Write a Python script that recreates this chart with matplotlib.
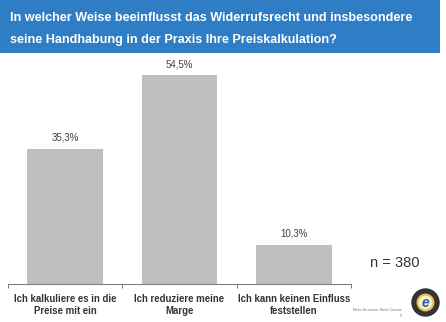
import matplotlib
matplotlib.use('Agg')
import matplotlib.pyplot as plt
from matplotlib.patches import Rectangle, Circle

# data
categories = ["Ich kalkuliere es in die\nPreise mit ein",
              "Ich reduziere meine\nMarge",
              "Ich kann keinen Einfluss\nfeststellen"]
values = [35.3, 54.5, 10.3]
value_labels = ["35,3%", "54,5%", "10,3%"]
title = "In welcher Weise beeinflusst das Widerrufsrecht und insbesondere\nseine Handhabung in der Praxis Ihre Preiskalkulation?"
n_text = "n = 380"

plt.rcParams['font.family'] = ['Liberation Sans', 'DejaVu Sans']

fig = plt.figure(figsize=(4.46, 3.22), dpi=100)
fig.patch.set_facecolor('white')

# header box
fig.patches.append(Rectangle((0, 1 - 53 / 322), 440 / 446, 53 / 322,
                             transform=fig.transFigure, facecolor='#2F7DC4',
                             edgecolor='none', zorder=0))
fig.text(10 / 446, 1 - 29 / 322, title, color='white', fontsize=9.1,
         fontweight='bold', va='center', ha='left', linespacing=2.2)

ax = fig.add_axes([8 / 446, 38 / 322, 343 / 446, 230 / 322])
x = range(len(categories))
ax.bar(x, values, width=0.66, color='#BFBFBF', edgecolor='none')
ax.set_xlim(-0.5, len(categories) - 0.5)
ax.set_ylim(0, 60)

for xi, v, lab in zip(x, values, value_labels):
    ax.text(xi, v + 1.5, lab, ha='center', va='bottom', fontsize=7, color='#404040')

for side in ['top', 'right', 'left']:
    ax.spines[side].set_visible(False)
ax.spines['bottom'].set_color('#808080')
ax.spines['bottom'].set_linewidth(0.8)
ax.set_yticks([])
ax.set_xticks([-0.5, 0.5, 1.5, 2.5])
ax.set_xticklabels([])
ax.tick_params(axis='x', length=3, color='#808080', direction='out')
for xi, cat in zip(x, categories):
    ax.text(xi, -2.6, cat, ha='center', va='top', fontsize=6.9, fontweight='bold',
            color='#333333', linespacing=1.25)

fig.text(370 / 446, 1 - 263 / 322, n_text, fontsize=10.5, color='#333333',
         ha='left', va='center')

# footer logo
fig.text(403 / 446, 1 - 310 / 322, "Mehr Vertrauen. Mehr Umsatz.", fontsize=2.6,
         color='#777777', ha='right', va='center')
fig.text(402 / 446, 1 - 316 / 322, "9", fontsize=2.6, color='#777777',
         ha='right', va='center')
lax = fig.add_axes([411 / 446, 1 - 317 / 322, 29 / 446, 29 / 322])
lax.set_xlim(-1, 1)
lax.set_ylim(-1, 1)
lax.set_aspect('equal')
lax.axis('off')
lax.add_patch(Circle((0, 0), 0.98, facecolor='#333333', edgecolor='none'))
lax.add_patch(Circle((0, 0), 0.62, facecolor='#E8C040', edgecolor='none'))
lax.add_patch(Circle((0, 0), 0.48, facecolor='#F5F0D0', edgecolor='none'))
lax.text(0, -0.05, "e", fontsize=10, fontstyle='italic', fontweight='bold',
         color='#2A5DA8', ha='center', va='center')

fig.savefig('out.png', dpi=100)
